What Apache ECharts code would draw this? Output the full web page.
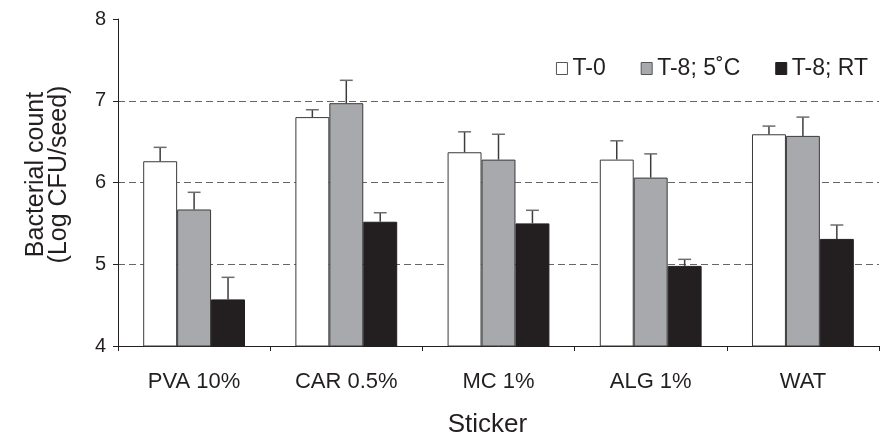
<!DOCTYPE html>
<html>
<head>
<meta charset="utf-8">
<script src="https://cdn.jsdelivr.net/npm/echarts@6/dist/echarts.min.js"></script>
<style>
html,body{margin:0;padding:0;background:#fff;}
#chart{width:880px;height:435px;}
</style>
</head>
<body>
<div id="chart"></div>
<script>
const categories = ['PVA 10%', 'CAR 0.5%', 'MC 1%', 'ALG 1%', 'WAT'];
const seriesNames = ['T-0', 'T-8; 5˚C', 'T-8; RT'];
const t0 = [6.26, 6.80, 6.37, 6.28, 6.59];
const t8cold = [5.67, 6.97, 6.28, 6.06, 6.57];
const t8rt = [4.57, 5.52, 5.50, 4.98, 5.31];
const t0Err = [0.17, 0.09, 0.25, 0.23, 0.10];
const t8coldErr = [0.21, 0.28, 0.31, 0.29, 0.23];
const t8rtErr = [0.27, 0.11, 0.16, 0.08, 0.17];
const yTicks = [4, 5, 6, 7, 8];

const values = [t0, t8cold, t8rt];
const errs = [t0Err, t8coldErr, t8rtErr];
const fills = ['#ffffff', '#a7a9ac', '#231f20'];
const borders = ['#3a3a3a', '#3a3a3a', '#231f20'];
const BAR_FRAC = 0.223;

const chart = echarts.init(document.getElementById('chart'), null, {renderer: 'canvas'});

const barSeries = values.map((v, i) => ({
  name: seriesNames[i],
  type: 'bar',
  data: v,
  barWidth: (BAR_FRAC * 100) + '%',
  barGap: '0%',
  itemStyle: {color: fills[i], borderColor: borders[i], borderWidth: 1},
  z: 2
}));

const errSeries = values.map((v, i) => ({
  type: 'custom',
  name: seriesNames[i] + ' err',
  data: v.map((val, k) => [k, val, val + errs[i][k]]),
  z: 3,
  silent: true,
  renderItem: function (params, api) {
    const k = api.value(0);
    const band = api.size([1, 0])[0];
    const bw = band * BAR_FRAC;
    const off = (i - 1) * bw;
    const base = api.coord([k, api.value(1)]);
    const top = api.coord([k, api.value(2)]);
    const x = base[0] + off;
    const cap = bw * 0.19;
    return {
      type: 'group',
      children: [
        {type: 'line', shape: {x1: x, y1: base[1], x2: x, y2: top[1]},
         style: {stroke: '#3c3c3c', lineWidth: 1.5}},
        {type: 'line', shape: {x1: x - cap, y1: top[1], x2: x + cap, y2: top[1]},
         style: {stroke: '#6d6d6d', lineWidth: 1.5}}
      ]
    };
  }
}));

const option = {
  animation: false,
  backgroundColor: '#ffffff',
  textStyle: {fontFamily: 'Liberation Sans, Arial, sans-serif', color: '#231f20'},
  grid: {left: 118, right: 1, top: 19, bottom: 89, containLabel: false, outerBoundsMode: 'none'},
  legend: {
    data: seriesNames.map((n, i) => ({name: n, itemStyle: {color: fills[i], borderColor: i === 2 ? '#231f20' : '#555', borderWidth: 1}})),
    right: 7,
    top: 52,
    icon: 'rect',
    itemWidth: 11,
    itemHeight: 12,
    itemGap: 35,
    textStyle: {fontSize: 23, color: '#231f20', fontFamily: 'Liberation Sans, Arial, sans-serif', padding: [0, 0, 0, 0]}
  },
  xAxis: {
    type: 'category',
    data: categories,
    boundaryGap: true,
    name: 'Sticker',
    nameLocation: 'middle',
    nameGap: 66,
    nameTextStyle: {fontSize: 26, color: '#231f20', padding: [0, 22, 0, 0]},
    axisLine: {show: true, lineStyle: {color: '#231f20', width: 1}},
    axisTick: {show: true, length: 5, lineStyle: {color: '#231f20'}},
    axisLabel: {fontSize: 22, color: '#231f20', margin: 25},
    splitLine: {show: false}
  },
  yAxis: {
    type: 'value',
    min: yTicks[0],
    max: yTicks[yTicks.length - 1],
    interval: 1,
    name: 'Bacterial count\n(Log CFU/seed)',
    nameLocation: 'middle',
    nameGap: 47,
    nameRotate: 90,
    nameTextStyle: {fontSize: 25, lineHeight: 23, color: '#231f20', padding: [0, 0, 0, 16]},
    axisLine: {show: true, lineStyle: {color: '#231f20', width: 1}},
    axisTick: {show: true, length: 5, lineStyle: {color: '#231f20'}},
    axisLabel: {fontSize: 20, color: '#231f20', margin: 12},
    splitLine: {show: true, showMinLine: false, showMaxLine: false, lineStyle: {color: '#666', type: [7, 4], width: 1}}
  },
  series: barSeries.concat(errSeries)
};
chart.setOption(option);
</script>
</body>
</html>
